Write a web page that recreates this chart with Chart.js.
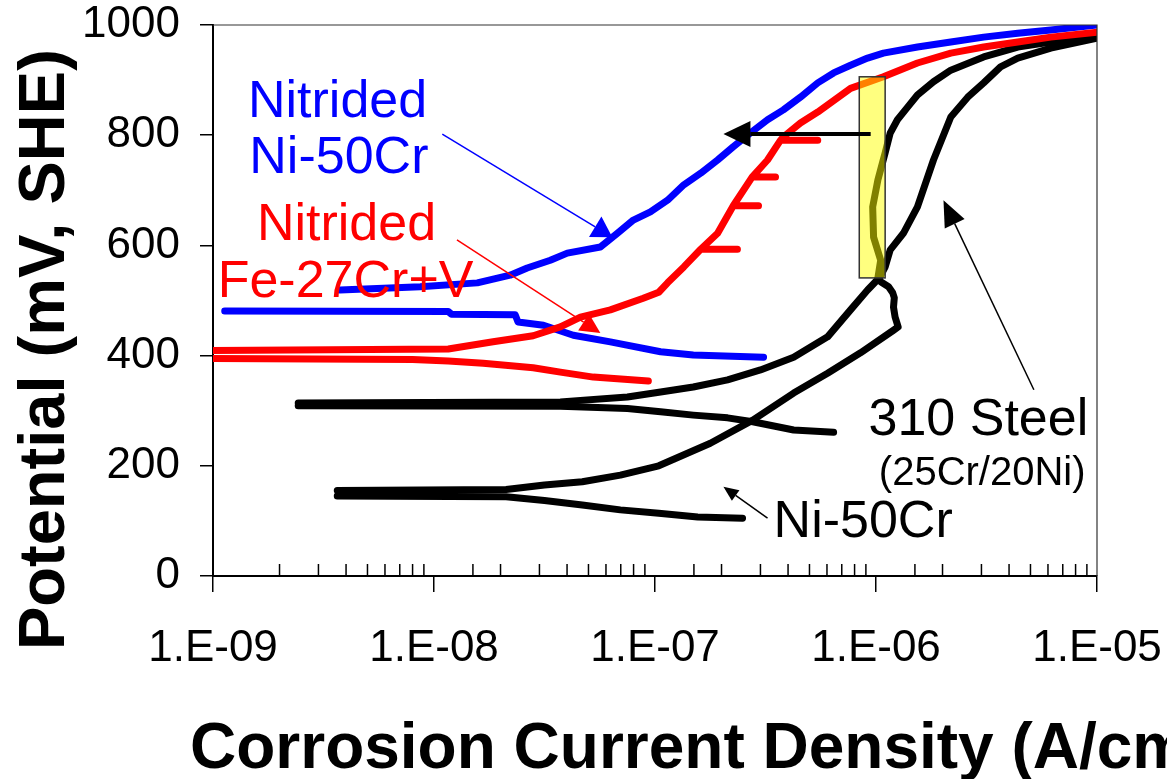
<!DOCTYPE html>
<html>
<head>
<meta charset="utf-8">
<title>Polarization curves</title>
<script src="https://cdn.jsdelivr.net/npm/chart.js@4.4.1/dist/chart.umd.min.js"></script>
<style>
  html, body { margin: 0; padding: 0; background: #fff; }
  canvas { display: block; }
</style>
</head>
<body>
<canvas id="chart" width="1167" height="779"></canvas>
<script>
// tick values / labels
const decades = [1e-9, 1e-8, 1e-7, 1e-6, 1e-5];
const decadeLabels = ['1.E-09', '1.E-08', '1.E-07', '1.E-06', '1.E-05'];
const yTicks = [0, 200, 400, 600, 800, 1000];

// [current density (A/cm2), potential (mV, SHE)]
const blueCathodic = [[1.13e-9, 481], [1.16e-8, 480], [1.2e-8, 475], [2.33e-8, 474], [2.4e-8, 461], [3.13e-8, 455],
  [4.27e-8, 437], [6.28e-8, 425], [1.06e-7, 407], [1.49e-7, 401], [3.10e-7, 397]];
const blueAnodic = [[3.76e-9, 519], [8.66e-9, 525], [1.57e-8, 532], [2.21e-8, 546], [2.64e-8, 559], [3.36e-8, 573],
  [4.01e-8, 586], [5.66e-8, 597], [6.76e-8, 622], [7.98e-8, 646], [9.53e-8, 661], [1.14e-7, 682], [1.35e-7, 710],
  [1.61e-7, 731], [1.92e-7, 755], [2.26e-7, 779], [2.70e-7, 804], [3.23e-7, 828], [3.81e-7, 846], [4.55e-7, 869],
  [5.45e-7, 895], [6.43e-7, 913], [7.67e-7, 927], [9.16e-7, 940], [1.08e-6, 949], [1.54e-6, 960], [2.18e-6, 969],
  [3.07e-6, 978], [4.38e-6, 985], [6.18e-6, 991], [1e-5, 1000]];

const redCathodic = [[9e-10, 395], [8e-9, 393], [1.16e-8, 390], [1.67e-8, 386], [2.81e-8, 378], [3.73e-8, 370],
  [5.26e-8, 361], [9.33e-8, 354]];
const redAnodic = [[9e-10, 409], [1.16e-8, 412], [1.85e-8, 425], [2.81e-8, 436], [3.73e-8, 452], [4.6e-8, 470],
  [6.28e-8, 483], [8.85e-8, 504], [1.04e-7, 515], [1.14e-7, 532], [1.35e-7, 561], [1.61e-7, 593], [2.36e-7, 593],
  [1.61e-7, 593], [1.92e-7, 622], [2.26e-7, 672], [2.94e-7, 672], [2.26e-7, 672], [2.75e-7, 724], [3.51e-7, 724],
  [2.75e-7, 724], [3.23e-7, 755], [3.70e-7, 791], [5.45e-7, 791], [3.70e-7, 791], [3.81e-7, 797], [4.55e-7, 822],
  [5.45e-7, 842], [7.67e-7, 885], [1.08e-6, 906], [1.54e-6, 931], [2.18e-6, 949], [3.07e-6, 960], [4.38e-6, 969],
  [6.18e-6, 978], [1e-5, 987]];

const ss310Cathodic = [[2.43e-9, 309], [3.73e-8, 308], [7.5e-8, 304], [1.06e-7, 298], [1.49e-7, 292], [2.13e-7, 287],
  [2.77e-7, 280], [4.24e-7, 265], [6.43e-7, 261]];
const ss310Anodic = [[2.43e-9, 314], [3.73e-8, 316], [7.5e-8, 325], [1.06e-7, 334], [1.49e-7, 343], [2.13e-7, 356],
  [3.0e-7, 374], [4.24e-7, 397], [6.04e-7, 434], [7.67e-7, 483], [9.16e-7, 519], [9.95e-7, 534], [1.05e-6, 545],
  [1.10e-6, 561], [1.16e-6, 592], [1.33e-6, 622], [1.54e-6, 670], [1.82e-6, 755], [2.18e-6, 833], [2.60e-6, 869],
  [3.07e-6, 895], [3.66e-6, 924], [4.38e-6, 940], [6.18e-6, 958], [1e-5, 976]];

const ni50Cathodic = [[3.65e-9, 145], [2.12e-8, 144], [3.16e-8, 137], [4.69e-8, 129], [6.97e-8, 120], [1.04e-7, 114],
  [1.56e-7, 107], [2.49e-7, 105]];
const ni50Anodic = [[3.65e-9, 155], [2.12e-8, 157], [3.16e-8, 165], [4.69e-8, 171], [6.97e-8, 183], [1.04e-7, 200],
  [1.78e-7, 241], [2.77e-7, 283], [4.24e-7, 332], [6.04e-7, 368], [8.51e-7, 405], [1.20e-6, 446], [1.26e-6, 452],
  [1.22e-6, 470], [1.20e-6, 488], [1.21e-6, 505], [1.19e-6, 514], [1.14e-6, 525], [1.05e-6, 534], [1.02e-6, 541],
  [1.05e-6, 573], [9.75e-7, 615], [9.66e-7, 670], [1.02e-6, 719], [1.07e-6, 750], [1.10e-6, 768], [1.16e-6, 804],
  [1.25e-6, 828], [1.39e-6, 851], [1.54e-6, 873], [1.82e-6, 897], [2.18e-6, 918], [3.07e-6, 942], [4.38e-6, 960],
  [6.18e-6, 969], [1e-5, 982]];

// annotations, in data units
const labels = [
  { text: 'Nitrided', x: 1.44e-9, y: 833, color: '#0000ff', size: 52 },
  { text: 'Ni-50Cr', x: 1.46e-9, y: 731, color: '#0000ff', size: 52 },
  { text: 'Nitrided', x: 1.58e-9, y: 610, color: '#ff0000', size: 52 },
  { text: 'Fe-27Cr+V', x: 1.05e-9, y: 506, color: '#ff0000', size: 52 },
  { text: '310 Steel', x: 9.25e-7, y: 256, color: '#000', size: 52 },
  { text: '(25Cr/20Ni)', x: 1.03e-6, y: 165, color: '#000', size: 40 },
  { text: 'Ni-50Cr', x: 3.44e-7, y: 71, color: '#000', size: 52 }
];
const arrows = [
  { from: [1.09e-8, 802], to: [6.41e-8, 615], color: '#0000ff', width: 1.5, head: 20, headW: 24 },
  { from: [1.27e-8, 610], to: [5.66e-8, 441], color: '#ff0000', width: 1.5, head: 20, headW: 20 },
  { from: [9.46e-7, 802], to: [2.04e-7, 802], color: '#000', width: 4, head: 27, headW: 26 },
  { from: [5.18e-6, 338], to: [2.02e-6, 682], color: '#000', width: 1.5, head: 26, headW: 22 },
  { from: [3.23e-7, 105], to: [2.04e-7, 162], color: '#000', width: 1.5, head: 15, headW: 13 }
];
const highlight = { x0: 8.4e-7, x1: 1.1e-6, y0: 541, y1: 906 };

const FONT = "'Liberation Sans', Arial, Helvetica, sans-serif";

function toXY(arr) {
  return arr.map(p => ({ x: p[0], y: p[1] }));
}

function isDecade(v) {
  const l = Math.log10(v);
  return Math.abs(l - Math.round(l)) < 1e-6;
}

function series(data, color, order) {
  return {
    data: toXY(data),
    showLine: true,
    borderColor: color,
    backgroundColor: color,
    borderWidth: 7,
    pointRadius: 0,
    borderCapStyle: 'round',
    borderJoinStyle: 'round',
    tension: 0,
    order: order
  };
}

function drawArrow(ctx, x1, y1, x2, y2, a) {
  const ang = Math.atan2(y2 - y1, x2 - x1);
  const bx = x2 - a.head * Math.cos(ang);
  const by = y2 - a.head * Math.sin(ang);
  ctx.strokeStyle = a.color;
  ctx.fillStyle = a.color;
  ctx.lineWidth = a.width;
  ctx.beginPath();
  ctx.moveTo(x1, y1);
  ctx.lineTo(bx, by);
  ctx.stroke();
  const nx = -Math.sin(ang) * a.headW / 2;
  const ny = Math.cos(ang) * a.headW / 2;
  ctx.beginPath();
  ctx.moveTo(x2, y2);
  ctx.lineTo(bx + nx, by + ny);
  ctx.lineTo(bx - nx, by - ny);
  ctx.closePath();
  ctx.fill();
}

const extras = {
  id: 'extras',
  afterDatasetsDraw(chart) {
    const ctx = chart.ctx;
    const xs = chart.scales.x;
    const ys = chart.scales.y;
    ctx.save();
    // yellow highlight box
    const bx0 = xs.getPixelForValue(highlight.x0);
    const bx1 = xs.getPixelForValue(highlight.x1);
    const by0 = ys.getPixelForValue(highlight.y1);
    const by1 = ys.getPixelForValue(highlight.y0);
    ctx.fillStyle = 'rgba(255,255,0,0.5)';
    ctx.fillRect(bx0, by0, bx1 - bx0, by1 - by0);
    ctx.strokeStyle = '#333';
    ctx.lineWidth = 1.5;
    ctx.strokeRect(bx0, by0, bx1 - bx0, by1 - by0);

    arrows.forEach(a => {
      drawArrow(ctx,
        xs.getPixelForValue(a.from[0]), ys.getPixelForValue(a.from[1]),
        xs.getPixelForValue(a.to[0]), ys.getPixelForValue(a.to[1]), a);
    });

    ctx.textAlign = 'left';
    ctx.textBaseline = 'alphabetic';
    labels.forEach(l => {
      ctx.font = l.size + 'px ' + FONT;
      ctx.fillStyle = l.color;
      ctx.fillText(l.text, xs.getPixelForValue(l.x), ys.getPixelForValue(l.y));
    });
    ctx.restore();
  },
  afterDraw(chart) {
    const ctx = chart.ctx;
    const area = chart.chartArea;
    const xs = chart.scales.x;
    ctx.save();
    // thin frame top and right
    ctx.strokeStyle = '#333';
    ctx.lineWidth = 1.2;
    ctx.beginPath();
    ctx.moveTo(area.left, area.top);
    ctx.lineTo(area.right, area.top);
    ctx.lineTo(area.right, area.bottom);
    ctx.stroke();
    // minor ticks pointing inward
    ctx.strokeStyle = '#000';
    ctx.lineWidth = 1.5;
    xs.ticks.forEach(t => {
      if (isDecade(t.value)) return;
      const px = xs.getPixelForValue(t.value);
      ctx.beginPath();
      ctx.moveTo(px, area.bottom);
      ctx.lineTo(px, area.bottom - 12);
      ctx.stroke();
    });
    // axis titles
    ctx.fillStyle = '#000';
    ctx.textAlign = 'left';
    ctx.textBaseline = 'alphabetic';
    ctx.font = 'bold 64px ' + FONT;
    ctx.fillText('Corrosion Current Density (A/cm\u00B2)', 190, 768);
    ctx.font = 'bold 65px ' + FONT;
    ctx.translate(64, 650);
    ctx.rotate(-Math.PI / 2);
    ctx.fillText('Potential (mV, SHE)', 0, 0);
    ctx.restore();
  }
};

new Chart(document.getElementById('chart'), {
  type: 'scatter',
  data: {
    datasets: [
      series(redAnodic, '#ff0000', 0),
      series(redCathodic, '#ff0000', 0),
      series(blueAnodic, '#0000ff', 1),
      series(blueCathodic, '#0000ff', 1),
      series(ni50Anodic, '#000000', 2),
      series(ni50Cathodic, '#000000', 2),
      series(ss310Anodic, '#000000', 2),
      series(ss310Cathodic, '#000000', 2)
    ]
  },
  options: {
    responsive: false,
    animation: false,
    layout: { padding: { top: 25, right: 70, left: 0, bottom: 0 } },
    plugins: {
      legend: { display: false },
      tooltip: { enabled: false }
    },
    scales: {
      x: {
        type: 'logarithmic',
        min: decades[0],
        max: decades[decades.length - 1],
        afterFit: function (s) {
          s.height = 203;
          s.paddingLeft = 0;
          s.paddingRight = 0;
        },
        grid: {
          drawOnChartArea: false,
          tickLength: 16,
          lineWidth: 1.5,
          color: function (c) {
            return c.tick && isDecade(c.tick.value) ? '#000' : 'rgba(0,0,0,0)';
          }
        },
        border: { color: '#000', width: 2 },
        ticks: {
          autoSkip: false,
          maxRotation: 0,
          padding: 30,
          color: '#000',
          font: { family: FONT, size: 44 },
          callback: function (v) {
            const i = decades.findIndex(d => Math.abs(Math.log10(d) - Math.log10(v)) < 1e-6);
            return i >= 0 ? decadeLabels[i] : '';
          }
        }
      },
      y: {
        min: yTicks[0],
        max: yTicks[yTicks.length - 1],
        afterFit: function (s) {
          s.width = 213;
          s.paddingTop = 0;
          s.paddingBottom = 0;
        },
        grid: { drawOnChartArea: false, tickLength: 13, lineWidth: 1.5, color: '#000' },
        border: { color: '#000', width: 2 },
        ticks: {
          stepSize: yTicks[1] - yTicks[0],
          padding: 20,
          color: '#000',
          font: { family: FONT, size: 44 },
          callback: function (v) { return String(v); }
        }
      }
    }
  },
  plugins: [extras]
});
</script>
</body>
</html>
